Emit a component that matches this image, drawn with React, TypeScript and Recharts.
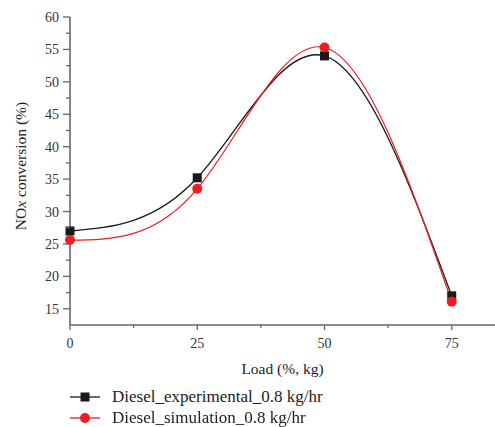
import { LineChart, Line, XAxis, YAxis } from "recharts"

const loads = [0, 25, 50, 75]
const experimental = [27, 35.2, 54, 17]
const simulation = [25.6, 33.5, 55.3, 16.1]
const xTicks = [0, 12.5, 25, 37.5, 50, 62.5, 75]
const xLabels = [0, 25, 50, 75]
const yTicks = [12.5, 15, 17.5, 20, 22.5, 25, 27.5, 30, 32.5, 35, 37.5, 40, 42.5, 45, 47.5, 50, 52.5, 55, 57.5, 60]
const yLabels = [15, 20, 25, 30, 35, 40, 45, 50, 55, 60]

const data = loads.map((load, i) => ({
  load,
  experimental: experimental[i],
  simulation: simulation[i],
}))

const FONT = "'Liberation Serif', 'DejaVu Serif', serif"
const AXIS = "#666"
const BLACK = "#1a1a1a"
const RED = "#ee1c25"

function YTick({ x, y, payload }: any) {
  const major = yLabels.includes(payload.value)
  if (payload.value === 12.5) return null
  return (
    <g>
      <line x1={x - (major ? 7 : 4)} x2={x} y1={y} y2={y} stroke={AXIS} strokeWidth={1.3} />
      {major && (
        <text x={x - 11} y={y} dy={5} textAnchor="end" fontSize={14} fill="#333" fontFamily={FONT}>
          {payload.value}
        </text>
      )}
    </g>
  )
}

function XTick({ x, y, payload }: any) {
  const major = xLabels.includes(payload.value)
  return (
    <g>
      <line x1={x} x2={x} y1={y} y2={y + (major ? 5 : 3)} stroke={AXIS} strokeWidth={1.3} />
      {major && (
        <text x={x} y={y + 23} textAnchor="middle" fontSize={14} fill="#333" fontFamily={FONT}>
          {payload.value}
        </text>
      )}
    </g>
  )
}

function YLabel() {
  return (
    <text
      x={20}
      y={166}
      transform="rotate(-90 20 166)"
      textAnchor="middle"
      dominantBaseline="central"
      fontSize={15.5}
      fill="#222"
      fontFamily={FONT}
    >
      NO<tspan fontStyle="italic">x</tspan> conversion (%)
    </text>
  )
}

function SquareDot({ cx, cy }: any) {
  if (cx == null || cy == null) return null
  return <rect x={cx - 4.5} y={cy - 4.5} width={9} height={9} fill={BLACK} />
}

function CircleDot({ cx, cy }: any) {
  if (cx == null || cy == null) return null
  return <circle cx={cx} cy={cy} r={5} fill={RED} />
}

function LegendBox() {
  const rows = [
    { name: "Diesel_experimental_0.8 kg/hr", color: BLACK, square: true },
    { name: "Diesel_simulation_0.8 kg/hr", color: RED, square: false },
  ]
  return (
    <div style={{ position: "absolute", left: 70, top: 386, fontFamily: FONT, fontSize: 17, color: "#222" }}>
      {rows.map((r) => (
        <div key={r.name} style={{ display: "flex", alignItems: "center", height: 21 }}>
          <svg width={34} height={14} style={{ marginRight: 8 }}>
            <line x1={0} x2={30} y1={7} y2={7} stroke={r.color} strokeWidth={1.3} />
            {r.square ? (
              <rect x={10.5} y={2.5} width={9} height={9} fill={r.color} />
            ) : (
              <circle cx={15} cy={7} r={5} fill={r.color} />
            )}
          </svg>
          <span>{r.name}</span>
        </div>
      ))}
    </div>
  )
}

export default function App() {
  return (
    <div style={{ position: "fixed", left: 0, top: 0, width: 495, height: 427, background: "#fff" }}>
      <LineChart width={495} height={427} data={data} margin={{ top: 17, right: 0, bottom: 42, left: 0 }}>
        <XAxis
          dataKey="load"
          type="number"
          domain={[0, 83.5]}
          ticks={xTicks}
          interval={0}
          height={60}
          tickSize={0}
          tickMargin={0}
          tickLine={false}
          tick={<XTick />}
          axisLine={{ stroke: AXIS, strokeWidth: 1.6 }}
          label={{ value: "Load (%, kg)", position: "insideBottom", offset: 11, fontSize: 15.5, fill: "#222", fontFamily: FONT }}
        />
        <YAxis
          type="number"
          domain={[12.5, 60]}
          ticks={yTicks}
          interval={0}
          width={70}
          tickSize={0}
          tickMargin={0}
          tickLine={false}
          tick={<YTick />}
          axisLine={{ stroke: AXIS, strokeWidth: 1.6 }}
          label={<YLabel />}
        />
        <Line
          type="natural"
          dataKey="experimental"
          stroke={BLACK}
          strokeWidth={1.3}
          dot={<SquareDot />}
          activeDot={false}
          isAnimationActive={false}
        />
        <Line
          type="natural"
          dataKey="simulation"
          stroke={RED}
          strokeWidth={1.2}
          dot={<CircleDot />}
          activeDot={false}
          isAnimationActive={false}
        />
      </LineChart>
      <LegendBox />
    </div>
  )
}
